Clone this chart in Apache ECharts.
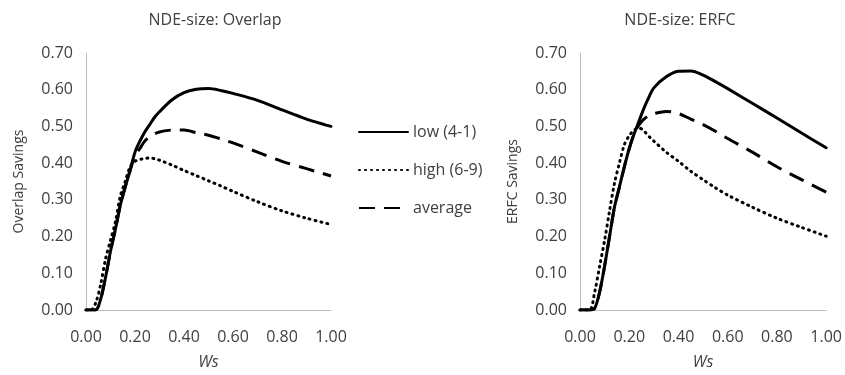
<!DOCTYPE html>
<html>
<head>
<meta charset="utf-8">
<script src="https://cdn.jsdelivr.net/npm/echarts@6/dist/echarts.min.js"></script>
<style>
  html, body { margin: 0; padding: 0; background: #fff; }
  #main { width: 845px; height: 375px; }
</style>
</head>
<body>
<div id="main"></div>
<script>
// Ws values shared by both panels
var ws = [0, 0.02, 0.04, 0.06, 0.08, 0.10, 0.12, 0.14, 0.16, 0.18, 0.20, 0.22, 0.24, 0.26, 0.28, 0.30,
  0.35, 0.40, 0.45, 0.50, 0.55, 0.60, 0.70, 0.80, 0.90, 1.00];

// NDE-size: Overlap
var overlapLow = [0, 0, 0, 0.03, 0.09, 0.16, 0.22, 0.285, 0.335, 0.38, 0.43, 0.46, 0.485, 0.505, 0.525, 0.54,
  0.572, 0.592, 0.601, 0.603, 0.598, 0.59, 0.571, 0.545, 0.52, 0.50];
var overlapHigh = [0, 0, 0.02, 0.07, 0.14, 0.19, 0.24, 0.31, 0.35, 0.39, 0.405, 0.41, 0.413, 0.414, 0.412, 0.408,
  0.395, 0.38, 0.366, 0.352, 0.338, 0.323, 0.295, 0.27, 0.25, 0.233];
var overlapAvg = [0, 0, 0, 0.03, 0.09, 0.16, 0.22, 0.285, 0.335, 0.38, 0.42, 0.44, 0.46, 0.472, 0.48, 0.485,
  0.49, 0.49, 0.483, 0.476, 0.466, 0.455, 0.43, 0.405, 0.385, 0.365];

// NDE-size: ERFC
var erfcLow = [0, 0, 0, 0.005, 0.05, 0.12, 0.20, 0.28, 0.335, 0.39, 0.44, 0.48, 0.515, 0.55, 0.58, 0.605,
  0.635, 0.65, 0.651, 0.64, 0.622, 0.603, 0.563, 0.523, 0.482, 0.442];
var erfcHigh = [0, 0, 0, 0.05, 0.12, 0.19, 0.27, 0.345, 0.40, 0.45, 0.475, 0.49, 0.496, 0.487, 0.473, 0.46,
  0.43, 0.405, 0.378, 0.355, 0.333, 0.313, 0.28, 0.25, 0.225, 0.201];
var erfcAvg = [0, 0, 0, 0.005, 0.05, 0.12, 0.20, 0.28, 0.335, 0.39, 0.44, 0.48, 0.505, 0.52, 0.53, 0.535,
  0.541, 0.535, 0.52, 0.505, 0.487, 0.467, 0.43, 0.39, 0.355, 0.321];

var seriesNames = ['low (4-1)', 'high (6-9)', 'average'];
var titles = ['NDE-size: Overlap', 'NDE-size: ERFC'];
var yNames = ['Overlap Savings', 'ERFC Savings'];

function pairs(ys) {
  return ws.map(function (x, i) { return [x, ys[i]]; });
}

var txt = '#404040';
var font = 'Open Sans';

function xAxisFor(idx) {
  return {
    gridIndex: idx, type: 'value', min: 0, max: 1, interval: 0.2,
    name: 'Ws', nameLocation: 'middle', nameGap: 44,
    nameTextStyle: { fontStyle: 'italic', fontSize: 16, color: txt, fontFamily: font },
    axisLine: { lineStyle: { color: '#bfbfbf', width: 1 } },
    axisTick: { show: false },
    splitLine: { show: false },
    axisLabel: { margin: 19, fontSize: 16, color: txt, fontFamily: font,
      formatter: function (v) { return v.toFixed(2); } }
  };
}
function yAxisFor(idx) {
  return {
    gridIndex: idx, type: 'value', min: 0, max: 0.7, interval: 0.1,
    name: yNames[idx], nameLocation: 'middle', nameGap: 60, nameRotate: 90,
    nameTextStyle: { fontSize: 14, color: txt, fontFamily: font },
    axisLine: { show: true, lineStyle: { color: '#bfbfbf', width: 1 } },
    axisTick: { show: false },
    splitLine: { show: false },
    axisLabel: { margin: 13, fontSize: 16, color: txt, fontFamily: font,
      formatter: function (v) { return v.toFixed(2); } }
  };
}

var styles = [
  { type: 'solid', width: 3, cap: 'round' },
  { type: [1, 5], width: 3, cap: 'round' },
  { type: [16, 9], width: 3, cap: 'butt' }
];

function mk(idx, name, ys, st) {
  return {
    name: name, type: 'line', xAxisIndex: idx, yAxisIndex: idx,
    data: pairs(ys), smooth: 0.3, symbol: 'none',
    lineStyle: { color: '#000', width: st.width, type: st.type, cap: st.cap },
    itemStyle: { color: '#000' }
  };
}

var myChart = echarts.init(document.getElementById('main'));
myChart.setOption({
  animation: false,
  backgroundColor: '#fff',
  title: [
    { text: titles[0], left: 210, top: 7, textAlign: 'center',
      textStyle: { fontSize: 16, fontWeight: 'normal', color: txt, fontFamily: font } },
    { text: titles[1], left: 675, top: 7, textAlign: 'center',
      textStyle: { fontSize: 16, fontWeight: 'normal', color: txt, fontFamily: font } }
  ],
  legend: {
    orient: 'vertical', left: 353, top: 119, itemWidth: 49, itemHeight: 14, itemGap: 22,
    data: seriesNames,
    itemStyle: { opacity: 0 },
    textStyle: { fontSize: 16, color: txt, fontFamily: font }
  },
  grid: [
    { left: 86, top: 53, width: 245, height: 258 },
    { left: 580, top: 53, width: 247, height: 258 }
  ],
  xAxis: [xAxisFor(0), xAxisFor(1)],
  yAxis: [yAxisFor(0), yAxisFor(1)],
  series: [
    mk(0, seriesNames[1], overlapHigh, styles[1]),
    mk(0, seriesNames[2], overlapAvg, styles[2]),
    mk(0, seriesNames[0], overlapLow, styles[0]),
    mk(1, seriesNames[1], erfcHigh, styles[1]),
    mk(1, seriesNames[2], erfcAvg, styles[2]),
    mk(1, seriesNames[0], erfcLow, styles[0])
  ]
});
</script>
</body>
</html>
